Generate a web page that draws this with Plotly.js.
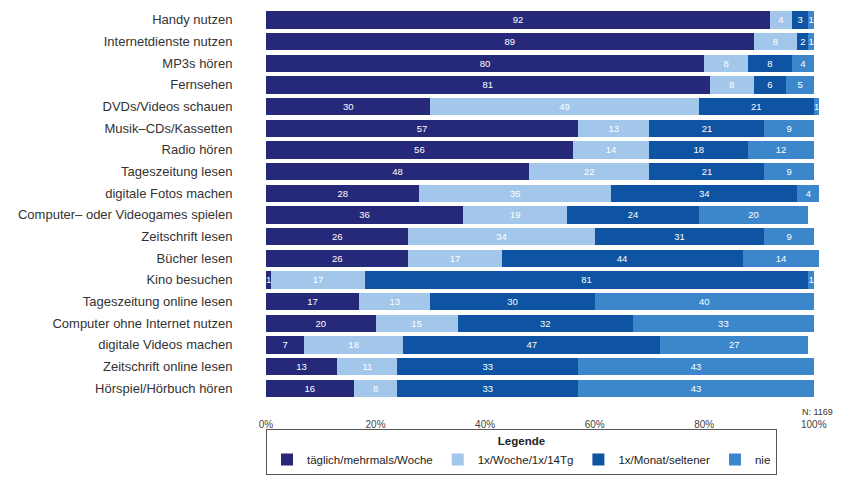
<!DOCTYPE html>
<html>
<head>
<meta charset="utf-8">
<script src="https://cdn.plot.ly/plotly-3.0.1.min.js"></script>
<style>html,body{margin:0;padding:0;background:#fff;}#chart{width:842px;height:477px;}</style>
</head>
<body>
<div id="chart"></div>
<script>
const categories = ["Handy nutzen","Internetdienste nutzen","MP3s hören","Fernsehen","DVDs/Videos schauen","Musik–CDs/Kassetten","Radio hören","Tageszeitung lesen","digitale Fotos machen","Computer– oder Videogames spielen","Zeitschrift lesen","Bücher lesen","Kino besuchen","Tageszeitung online lesen","Computer ohne Internet nutzen","digitale Videos machen","Zeitschrift online lesen","Hörspiel/Hörbuch hören"];
const taeglich = [92,89,80,81,30,57,56,48,28,36,26,26,1,17,20,7,13,16];
const woche    = [4,8,8,8,49,13,14,22,35,19,34,17,17,13,15,18,11,8];
const monat    = [3,2,8,6,21,21,18,21,34,24,31,44,81,30,32,47,33,33];
const nie      = [1,1,4,5,1,9,12,9,4,20,9,14,1,40,33,27,43,43];
const seriesNames = ["täglich/mehrmals/Woche","1x/Woche/1x/14Tg","1x/Monat/seltener","nie"];
const tickVals = [0,20,40,60,80,100];
const tickText = ["0%","20%","40%","60%","80%","100%"];

const colors = ["#26297a","#a3c7ea","#0e54a3","#3c86cb"];
const vals = [taeglich, woche, monat, nie];
const traces = vals.map((v,i)=>({
  type:'bar', orientation:'h', name:seriesNames[i],
  x:v, y:categories,
  marker:{color:colors[i], line:{width:0}},
  text:v.map(String), textposition:'inside', insidetextanchor:'middle',
  textfont:{color:'#ffffff', size:9.5, family:'Liberation Sans, Arial, sans-serif'},
  constraintext:'none', cliponaxis:false, hoverinfo:'skip'
}));

const layout = {
  width:842, height:477,
  margin:{l:266, r:20, t:9, b:78, autoexpand:false},
  paper_bgcolor:'#ffffff', plot_bgcolor:'#ffffff',
  barmode:'stack', bargap:0.2,
  font:{family:'Liberation Sans, Arial, sans-serif', color:'#333333', size:12},
  uniformtext:{minsize:9.5, mode:'show'},
  xaxis:{range:[0,101.5], tickvals:tickVals, ticktext:tickText, showgrid:false, zeroline:false,
         showline:false, ticks:'outside', ticklen:16, tickcolor:'rgba(0,0,0,0)',
         tickfont:{size:10, color:'#444'}, fixedrange:true},
  yaxis:{autorange:'reversed', showgrid:false, zeroline:false, showline:false,
         ticks:'outside', ticklen:30, tickcolor:'rgba(0,0,0,0)',
         tickfont:{size:13, color:'#333'}, fixedrange:true},
  showlegend:true,
  legend:{orientation:'h', x:0, xanchor:'left', y:-0.195, yanchor:'bottom',
          bordercolor:'#555', borderwidth:1, bgcolor:'#fff',
          title:{text:'<b>Legende</b>', side:'top center', font:{size:11.5, color:'#222'}},
          font:{size:11.5, color:'#222'}, itemwidth:30, traceorder:'normal',
          tracegroupgap:0, itemclick:false},
  annotations:[{text:'N: 1169', xref:'paper', yref:'paper', x:1.023, y:-0.015, xanchor:'right', yanchor:'top',
                showarrow:false, font:{size:9, color:'#333'}}]
};
Plotly.newPlot('chart', traces, layout, {displayModeBar:false, staticPlot:true});
</script>
</body>
</html>
